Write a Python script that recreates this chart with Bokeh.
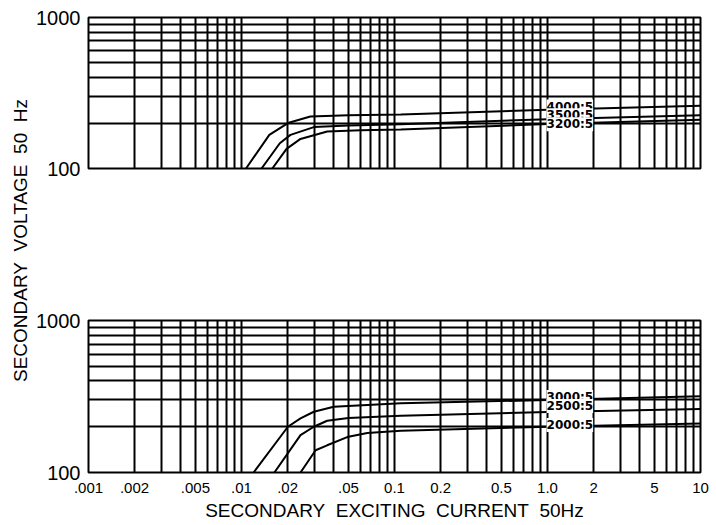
from bokeh.plotting import figure
from bokeh.layouts import row, column
from bokeh.models import FixedTicker, CustomJSTickFormatter, Label
from bokeh.core.properties import value
from bokeh.embed import file_html
from bokeh.resources import INLINE
import math

# ---------------- data ----------------
x_ticks = [0.001, 0.002, 0.005, 0.01, 0.02, 0.05, 0.1, 0.2, 0.5, 1.0, 2, 5, 10]
x_tick_labels = [".001", ".002", ".005", ".01", ".02", ".05", "0.1", "0.2", "0.5", "1.0", "2", "5", "10"]
x_grid = [m * 10.0 ** e for e in range(-3, 1) for m in range(1, 10)] + [10]
y_grid = [100, 200, 300, 400, 500, 600, 700, 800, 900, 1000]
y_ticks = [100, 1000]

# top panel
top_names = ["4000:5", "3500:5", "3200:5"]
top_a_x = [0.0107, 0.0152, 0.0201, 0.0282, 0.05, 0.11, 1.0, 10]
top_a_y = [100, 167, 200, 221, 225, 228, 245, 260]
top_b_x = [0.01352, 0.0178, 0.0209, 0.0297, 0.05, 0.11, 1.0, 10]
top_b_y = [100, 147, 167, 188, 193, 196, 212, 225]
top_c_x = [0.0159, 0.0197, 0.0243, 0.0363, 0.06, 0.11, 1.0, 10]
top_c_y = [100, 135, 157, 176, 179, 181, 197, 210]

# bottom panel
bot_names = ["3000:5", "2500:5", "2000:5"]
bot_a_x = [0.0120, 0.0201, 0.0243, 0.0297, 0.0401, 0.11, 1.0, 10]
bot_a_y = [100, 200, 227, 251, 271, 285, 300, 318]
bot_b_x = [0.0164, 0.0243, 0.0297, 0.0363, 0.05, 0.11, 1.0, 10]
bot_b_y = [100, 176, 200, 219, 228, 236, 250, 262]
bot_c_x = [0.0243, 0.0305, 0.0363, 0.0491, 0.0664, 0.11, 1.0, 10]
bot_c_y = [100, 140, 151, 171, 182, 188, 200, 210]

FONT = "Liberation Sans"
NB = "\u00a0"


def panel(height, top_border, bottom_border, show_x):
    p = figure(width=682, height=height, x_axis_type="log", y_axis_type="log",
               x_range=(0.001, 10), y_range=(100, 1000),
               toolbar_location=None, output_backend="svg",
               min_border_left=58, min_border_right=12,
               min_border_top=top_border, min_border_bottom=bottom_border)
    p.outline_line_color = "black"
    p.outline_line_width = 2
    p.xgrid.ticker = FixedTicker(ticks=x_grid)
    p.ygrid.ticker = FixedTicker(ticks=y_grid)
    for g in (p.xgrid, p.ygrid):
        g.grid_line_color = "black"
        g.grid_line_width = 2
        g.grid_line_alpha = 1.0
    ya = p.yaxis[0]
    ya.ticker = FixedTicker(ticks=y_ticks)
    ya.formatter = CustomJSTickFormatter(code="return tick.toFixed(0);")
    ya.major_label_text_font_size = "20px"
    ya.major_label_text_font = FONT
    ya.major_label_text_color = "black"
    ya.major_tick_line_color = None
    ya.minor_tick_line_color = None
    ya.major_tick_out = 0
    ya.major_tick_in = 0
    ya.minor_tick_out = 0
    ya.minor_tick_in = 0
    ya.axis_line_color = None
    ya.major_label_standoff = 8
    xa = p.xaxis[0]
    xa.ticker = FixedTicker(ticks=x_ticks)
    xa.formatter = CustomJSTickFormatter(
        args=dict(t=x_ticks, l=x_tick_labels),
        code="""
        let best = 0, d = 1e9;
        for (let i = 0; i < t.length; i++) {
          const dd = Math.abs(Math.log10(t[i]) - Math.log10(tick));
          if (dd < d) { d = dd; best = i; }
        }
        return l[best];
        """)
    xa.major_tick_line_color = None
    xa.minor_tick_line_color = None
    xa.major_tick_out = 0
    xa.major_tick_in = 0
    xa.minor_tick_out = 0
    xa.minor_tick_in = 0
    xa.axis_line_color = None
    xa.major_label_text_font_size = "15px"
    xa.major_label_text_font = FONT
    xa.major_label_text_color = "black"
    xa.major_label_standoff = 10
    if show_x:
        xa.axis_label = f"SECONDARY{NB}{NB}EXCITING{NB}{NB}CURRENT{NB}{NB}50Hz"
        xa.axis_label_text_font = FONT
        xa.axis_label_text_font_size = "19px"
        xa.axis_label_text_font_style = "normal"
        xa.axis_label_text_color = "black"
        xa.axis_label_standoff = 4
    else:
        xa.visible = False
    return p


def add_curve_label(p, x, y, text):
    p.add_layout(Label(x=x, y=y, text=text, text_align="center", text_baseline="middle",
                       text_font="DejaVu Sans", text_font_size="12px", text_font_style="bold",
                       text_color="black", background_fill_color="white",
                       background_fill_alpha=1.0, padding=0))


p1 = panel(244, 17, 76, False)
for xs, ys in ((top_a_x, top_a_y), (top_b_x, top_b_y), (top_c_x, top_c_y)):
    p1.line(xs, ys, line_color="black", line_width=2)
label_x = 1.40
for name, ly in zip(top_names, [257, 225, 196]):
    add_curve_label(p1, label_x, ly, name)

p2 = panel(281, 76, 53, True)
for xs, ys in ((bot_a_x, bot_a_y), (bot_b_x, bot_b_y), (bot_c_x, bot_c_y)):
    p2.line(xs, ys, line_color="black", line_width=2)
for name, ly in zip(bot_names, [314, 274, 205]):
    add_curve_label(p2, label_x, ly, name)

# shared y-axis title
pl = figure(width=30, height=525, x_range=(0, 30), y_range=(0, 525),
            toolbar_location=None, output_backend="svg", min_border=0)
pl.axis.visible = False
pl.grid.visible = False
pl.outline_line_color = None
pl.text(x=[20], y=[525 - 240], text=[f"SECONDARY{NB}{NB}VOLTAGE{NB}{NB}50{NB}{NB}Hz"],
        angle=math.pi / 2, text_align="center", text_baseline="middle",
        text_font=value(FONT), text_font_size="19px", text_color="black")

layout = row(pl, column(p1, p2))
open("out.html", "w").write(file_html(layout, INLINE))
